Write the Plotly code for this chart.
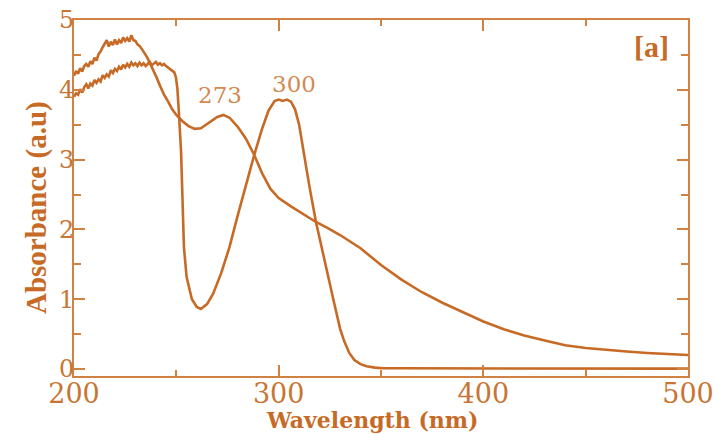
import plotly.graph_objects as go

# Spectrum with absorption maximum at 300 nm
wl_a = [200, 201, 202, 203, 204, 205, 206, 207, 208, 209, 210, 211, 212, 213, 214, 215,
        216, 217, 218, 219, 220, 221, 222, 223, 224, 225, 226, 227, 228, 229, 230, 231,
        232, 233, 234, 235, 236, 237, 238, 239, 240, 241, 242, 243, 244, 245, 246, 247,
        248, 249, 249.8, 250.5, 251.2, 251.8, 252.3,
        253.0, 253.7, 255, 257.6, 260, 262, 265, 268, 272, 276, 280, 284, 288, 292,
        295, 298, 300, 302, 304, 306, 308, 310, 312, 315, 318.2, 321.5, 324.7, 327,
        330, 332, 334.5, 337, 340, 343, 347, 351, 360, 380, 400, 450, 500]
abs_a = [3.90, 3.95, 3.93, 4.01, 3.96, 4.04, 4.08, 4.02, 4.09, 4.06, 4.14, 4.10, 4.15, 4.12, 4.21, 4.17,
         4.22, 4.19, 4.28, 4.24, 4.30, 4.27, 4.33, 4.29, 4.36, 4.32, 4.37, 4.33, 4.39, 4.35, 4.38, 4.34,
         4.39, 4.35, 4.38, 4.34, 4.37, 4.40, 4.35, 4.38, 4.40, 4.36, 4.38, 4.35, 4.37, 4.34, 4.32, 4.30,
         4.28, 4.25, 4.18, 4.02, 3.70, 3.40, 3.12,
         2.45, 1.75, 1.32, 1.00, 0.89, 0.86, 0.93, 1.08, 1.38, 1.75, 2.20, 2.65, 3.06, 3.45,
         3.70, 3.84, 3.86, 3.84, 3.86, 3.83, 3.72, 3.50, 3.12, 2.62, 2.11, 1.66, 1.23, 0.96,
         0.58, 0.40, 0.23, 0.13, 0.07, 0.04, 0.02, 0.012, 0.01, 0.008, 0.008, 0.006, 0.005]

# Spectrum with absorption maximum at 273 nm
wl_b = [200, 201, 202, 203, 204, 205, 206, 207, 208, 209, 210, 211, 212, 213, 214, 215,
        216, 217, 218, 219, 220, 221, 222, 223, 224, 225, 226, 227, 228, 229, 230, 231,
        232, 233, 234, 235, 236, 238, 240, 242, 244, 246, 248, 250, 253, 256, 259, 262, 266, 270,
        273, 276, 280, 284, 288, 292, 296, 300, 306, 312, 318, 324, 330, 340, 350, 360,
        370, 380, 390, 400, 410, 420, 430, 440, 450, 460, 470, 480, 490, 500]
abs_b = [4.20, 4.27, 4.23, 4.31, 4.26, 4.34, 4.37, 4.33, 4.41, 4.37, 4.46, 4.42, 4.51, 4.55, 4.61, 4.66,
         4.71, 4.62, 4.69, 4.64, 4.72, 4.65, 4.71, 4.67, 4.75, 4.70, 4.74, 4.69, 4.78, 4.71, 4.70, 4.65,
         4.63, 4.59, 4.55, 4.50, 4.45, 4.33, 4.20, 4.06, 3.93, 3.83, 3.72, 3.64, 3.55, 3.48, 3.44, 3.45, 3.53, 3.61,
         3.64, 3.60, 3.47, 3.30, 3.07, 2.80, 2.58, 2.45, 2.33, 2.22, 2.11, 2.02, 1.92, 1.73, 1.49, 1.28,
         1.10, 0.95, 0.81, 0.68, 0.57, 0.48, 0.41, 0.34, 0.30, 0.27, 0.25, 0.23, 0.21, 0.20]

peak_labels = ["273", "300"]
peak_x = [271.1, 307.7]
peak_y = [3.92, 4.08]
panel_label = "[a]"
x_title = "Wavelength (nm)"
y_title = "Absorbance (a.u)"

CURVE = "#C66A25"
AXIS = "#D08242"
LABEL = "#C87533"
ANN = "#D38A52"

fig = go.Figure()
fig.add_trace(go.Scatter(x=wl_a, y=abs_a, mode="lines", line=dict(color=CURVE, width=2.6), showlegend=False))
fig.add_trace(go.Scatter(x=wl_b, y=abs_b, mode="lines", line=dict(color=CURVE, width=2.6), showlegend=False))

axis_common = dict(
    showline=True, linewidth=2, linecolor=AXIS, mirror="ticks",
    ticks="inside", tickwidth=2, tickcolor=AXIS,
    showgrid=False, zeroline=False, automargin=False,
)
fig.update_xaxes(range=[200, 500], tick0=200, dtick=100, ticklen=11, ticklabelstandoff=-7,
                 tickfont=dict(family="DejaVu Serif", size=27, color=LABEL),
                 minor=dict(dtick=50, ticklen=6, tickwidth=2, tickcolor=AXIS, ticks="inside", showgrid=False),
                 **axis_common)
fig.update_yaxes(range=[-0.1, 5], tick0=0, dtick=1, ticklen=11, ticklabelstandoff=-7,
                 tickfont=dict(family="DejaVu Serif", size=24, color=LABEL),
                 minor=dict(dtick=0.5, ticklen=7, tickwidth=2, tickcolor=AXIS, ticks="inside", showgrid=False),
                 **axis_common)

for t, x, y in zip(peak_labels, peak_x, peak_y):
    fig.add_annotation(x=x, y=y, xref="x", yref="y", text=t, showarrow=False,
                       font=dict(family="DejaVu Serif", size=23, color=ANN),
                       xanchor="center", yanchor="middle")
fig.add_annotation(x=482.3, y=4.62, xref="x", yref="y", text="<b>" + panel_label + "</b>", showarrow=False,
                   font=dict(family="Liberation Serif", size=30, color=CURVE),
                   xanchor="center", yanchor="middle")
fig.add_annotation(x=0.486, y=-0.1236, xref="paper", yref="paper", text="<b>" + x_title + "</b>",
                   showarrow=False, font=dict(family="DejaVu Serif", size=22, color=CURVE),
                   xanchor="center", yanchor="middle")
fig.add_annotation(x=-0.0619, y=0.4747, xref="paper", yref="paper", text="<b>" + y_title + "</b>",
                   showarrow=False, textangle=-90, font=dict(family="Liberation Serif", size=29, color=CURVE),
                   xanchor="center", yanchor="middle")

fig.update_layout(width=718, height=434, margin=dict(l=74, r=30, t=20, b=58, autoexpand=False),
                  paper_bgcolor="white", plot_bgcolor="white")
fig.write_html("out.html", config={"displayModeBar": False},
               post_script="document.body.style.margin='0px';document.body.style.overflow='hidden';")
